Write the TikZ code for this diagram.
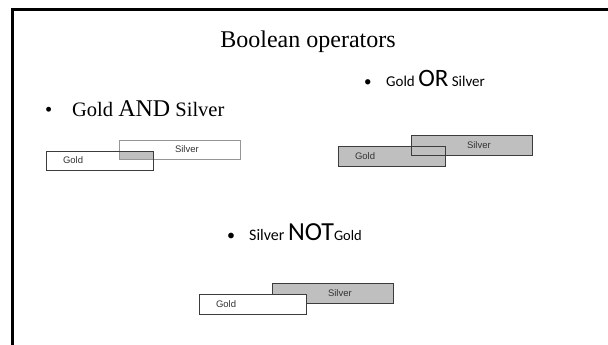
\documentclass[tikz,border=0pt]{standalone}
\usepackage{fontspec}
\setmainfont{Liberation Serif}
\newfontfamily\calfont{Carlito}
\newfontfamily\arialfont{Liberation Sans}
\usetikzlibrary{positioning, backgrounds}

\definecolor{boxgray}{RGB}{191,191,191}
\definecolor{edgedark}{RGB}{60,60,60}
\definecolor{edgelight}{RGB}{150,150,150}

\tikzset{
    txt/.style={inner sep=0pt, anchor=base west},
    setbox/.style={draw=edgedark, minimum height=19.5pt, inner sep=0pt},
    goldbox/.style={setbox, minimum width=107pt},
    silverbox/.style={setbox, minimum width=121pt},
    lbl/.style={inner sep=0pt, anchor=west, text=black!80, font=\arialfont\fontsize{9.5}{10}\selectfont}
}

\begin{document}
\begin{tikzpicture}[x=1pt, y=-1pt]
    \useasboundingbox (0,0) rectangle (608,345);

    % --- Frame ---
    \draw[line width=3pt] (12.5,345) |- (608,9.5);

    % --- Title ---
    \node[inner sep=0pt, anchor=base, font=\fontsize{24}{28}\selectfont] (title) at (308,48) {Boolean operators};

    % --- Bullet lines ---
    \node[txt, font=\fontsize{20.5}{22}\selectfont] (andtxt) at (45,116)
        {\makebox[27pt][l]{\textbullet}Gold {\fontsize{24}{26}\selectfont AND} Silver};
    \node[txt, font=\calfont\fontsize{15}{16}\selectfont] (ortxt) at (364,86)
        {\makebox[22pt][l]{\textbullet}Gold {\fontsize{25}{26}\selectfont OR} Silver};
    \node[txt, font=\calfont\fontsize{16}{17}\selectfont] (nottxt) at (227,240)
        {\makebox[22pt][l]{\textbullet}Silver {\fontsize{26}{27}\selectfont NOT}{\fontsize{14.5}{15}\selectfont Gold}};

    % --- Gold AND Silver ---
    \node[silverbox, draw=edgelight] (silver1) at (179.5,149.5) {};
    \node[goldbox] (gold1) at (99.5,160.5) {};
    \begin{scope}[on background layer]
        \fill[boxgray] (gold1.north -| silver1.west) rectangle (silver1.south -| gold1.east);
    \end{scope}
    \node[lbl, right=17pt of gold1.west] (g1) {Gold};
    \node[lbl, right=56pt of silver1.west] (s1) {Silver};

    % --- Gold OR Silver ---
    \node[silverbox] (silver2) at (471.5,145) {};
    \node[goldbox] (gold2) at (391.5,156) {};
    \begin{scope}[on background layer]
        \fill[boxgray] (silver2.south west) rectangle (silver2.north east);
        \fill[boxgray] (gold2.south west) rectangle (gold2.north east);
    \end{scope}
    \node[lbl, right=17pt of gold2.west] (g2) {Gold};
    \node[lbl, right=56pt of silver2.west] (s2) {Silver};

    % --- Silver NOT Gold ---
    \node[silverbox, fill=boxgray] (silver3) at (332.5,293) {};
    \node[goldbox, fill=white] (gold3) at (252.5,304) {};
    \node[lbl, right=17pt of gold3.west] (g3) {Gold};
    \node[lbl, right=56pt of silver3.west] (s3) {Silver};
\end{tikzpicture}
\end{document}
